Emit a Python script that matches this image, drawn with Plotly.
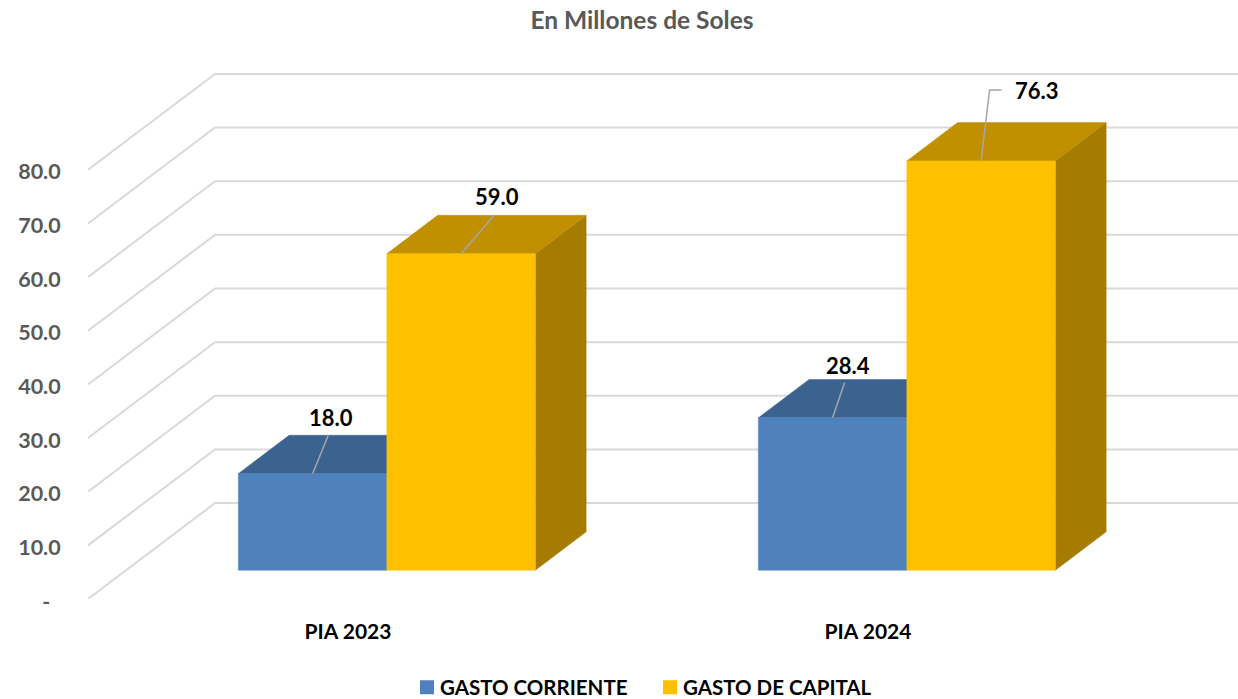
import plotly.graph_objects as go

categories = ["PIA 2023", "PIA 2024"]
gasto_corriente = [18.0, 28.4]
gasto_capital = [59.0, 76.3]
tick_values = [0, 10, 20, 30, 40, 50, 60, 70, 80]
tick_labels = ["-\u00a0\u00a0", "10.0", "20.0", "30.0", "40.0", "50.0", "60.0", "70.0", "80.0"]
series_names = ["GASTO CORRIENTE", "GASTO DE CAPITAL"]

FONT = "Lato"
PX_X = 520.0          # pixels per category
PX_Y = 5.37           # pixels per value unit
DEPTH_X = 127 / PX_X  # wall depth along x, in axis units
DEPTH_Y = 96 / PX_Y   # wall depth along y, in axis units
BAR_W = 148.5 / PX_X
BAR_SHIFT = 0.75 / PX_X
D0, D1 = 0.3, 0.7     # bar front/back depth
XMAX = 1150 / PX_X
YMAX = 539.5 / PX_Y

COLORS = {
    0: dict(front="#4F81BD", top="#3C6290", side="#2F4D72"),
    1: dict(front="#FFC000", top="#C09000", side="#A67C00"),
}
GRID = "#D9D9D9"
LEADER = "#A6A6A6"


def proj(x, v, d):
    return x + DEPTH_X * d, v + DEPTH_Y * d


def poly(points, color):
    xs = [p[0] for p in points] + [points[0][0]]
    ys = [p[1] for p in points] + [points[0][1]]
    return go.Scatter(x=xs, y=ys, mode="lines", fill="toself", fillcolor=color,
                      line=dict(color=color, width=0.5), hoverinfo="skip", showlegend=False)


fig = go.Figure()

for v in tick_values:
    bx, by = proj(0, v, 1)
    fig.add_trace(go.Scatter(x=[0, bx, XMAX], y=[v, by, by], mode="lines",
                             line=dict(color=GRID, width=2), hoverinfo="skip", showlegend=False))

leaders = {(0, 0): [(15.5, 38)], (0, 1): [(12, 35.5)], (1, 0): [(33, 38.5)], (1, 1): [(8.5, 71), (20.5, 71)]}
label_off = {(0, 0): (18.5, 56), (0, 1): (15, 52.5), (1, 0): (36, 57), (1, 1): (56, 70)}

for c in range(len(categories)):
    center = c + 0.5 + BAR_SHIFT
    for s, vals in enumerate([gasto_corriente, gasto_capital]):
        v = vals[c]
        x0 = center + (s - 1) * BAR_W
        x1 = x0 + BAR_W
        col = COLORS[s]
        fig.add_trace(poly([proj(x1, 0, D0), proj(x1, 0, D1), proj(x1, v, D1), proj(x1, v, D0)], col["side"]))
        fig.add_trace(poly([proj(x0, v, D0), proj(x1, v, D0), proj(x1, v, D1), proj(x0, v, D1)], col["top"]))
        fig.add_trace(poly([proj(x0, 0, D0), proj(x1, 0, D0), proj(x1, v, D0), proj(x0, v, D0)], col["front"]))

for c in range(len(categories)):
    center = c + 0.5 + BAR_SHIFT
    for s, vals in enumerate([gasto_corriente, gasto_capital]):
        v = vals[c]
        mx, my = proj(center + (s - 0.5) * BAR_W, v, D0)
        pts = leaders[(s, c)]
        fig.add_trace(go.Scatter(x=[mx] + [mx + p[0] / PX_X for p in pts],
                                 y=[my] + [my + p[1] / PX_Y for p in pts],
                                 mode="lines", line=dict(color=LEADER, width=1.5),
                                 hoverinfo="skip", showlegend=False))
        ox, oy = label_off[(s, c)]
        fig.add_annotation(x=mx + ox / PX_X, y=my + oy / PX_Y, xref="x", yref="y",
                           text=f"<b>{v:.1f}</b>", showarrow=False,
                           font=dict(family=FONT, size=22, color="#000000"))

for s, name in enumerate(series_names):
    fig.add_trace(go.Scatter(x=[None], y=[None], mode="markers", name=f"<b>{name}</b>",
                             marker=dict(symbol="square", size=14, color=COLORS[s]["front"])))

fig.update_layout(
    width=1238, height=699, autosize=False,
    margin=dict(l=88, r=0, t=60, b=99.5, autoexpand=False),
    paper_bgcolor="#FFFFFF", plot_bgcolor="#FFFFFF",
    title=dict(text="<b>En Millones de Soles</b>", x=642 / 1238, xanchor="center",
               y=1 - 20 / 699, yanchor="middle",
               font=dict(family=FONT, size=24.5, color="#595959")),
    legend=dict(orientation="h", x=(400 - 88) / 1150, xanchor="left", y=-(688 - 599.5) / 539.5, yanchor="middle",
                font=dict(family=FONT, size=20.5, color="#000000"), itemwidth=30,
                entrywidth=198, entrywidthmode="pixels", bgcolor="rgba(0,0,0,0)"),
    xaxis=dict(range=[0, XMAX], tickmode="array", tickvals=[0.5, 1.5], ticktext=[f"<b>{t}</b>" for t in categories],
               showgrid=False, zeroline=False, showline=False, ticks="outside", ticklen=14,
               tickcolor="rgba(0,0,0,0)", tickfont=dict(family=FONT, size=21, color="#000000")),
    yaxis=dict(range=[0, YMAX], tickmode="array", tickvals=tick_values, ticktext=[f"<b>{t}</b>" for t in tick_labels],
               showgrid=False, zeroline=False, showline=False, ticks="outside", ticklen=22, ticklabelshift=2,
               tickcolor="rgba(0,0,0,0)", tickfont=dict(family=FONT, size=21.5, color="#595959")),
)

post = """
document.body.style.margin = '0';
document.body.style.overflow = 'hidden';
document.querySelectorAll('.legendpoints').forEach(function (g) {
  g.setAttribute('transform', 'translate(7,0)');
});
"""
fig.write_html("out.html", post_script=post, config={"displayModeBar": False})
